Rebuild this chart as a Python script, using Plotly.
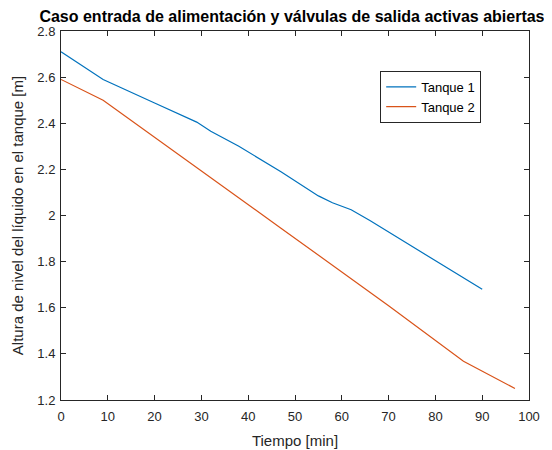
import plotly.graph_objects as go

t1 = [0, 9, 20, 29, 32, 38, 47, 55, 58, 61, 62, 66, 73, 90]
h1 = [2.71, 2.59, 2.488, 2.405, 2.365, 2.30, 2.19, 2.085, 2.055, 2.035, 2.025, 1.978, 1.89, 1.68]
t2 = [0, 9, 47, 70, 86, 97]
h2 = [2.59, 2.50, 1.945, 1.609, 1.368, 1.25]
x_ticks = [0, 10, 20, 30, 40, 50, 60, 70, 80, 90, 100]
y_ticks = [1.2, 1.4, 1.6, 1.8, 2.0, 2.2, 2.4, 2.6, 2.8]
y_labels = ["1.2", "1.4", "1.6", "1.8", "2", "2.2", "2.4", "2.6", "2.8"]

FONT = "Liberation Sans, Arial, Helvetica, sans-serif"
AX = "#262626"

fig = go.Figure()
fig.add_trace(go.Scatter(x=t1, y=h1, mode="lines", name="Tanque 1",
                         line=dict(color="#0072BD", width=1.2)))
fig.add_trace(go.Scatter(x=t2, y=h2, mode="lines", name="Tanque 2",
                         line=dict(color="#D95319", width=1.2)))

axis_common = dict(showgrid=False, zeroline=False, showline=True, linecolor=AX,
                   linewidth=1, mirror="ticks", ticks="inside", ticklen=5,
                   tickcolor=AX, automargin=False,
                   tickfont=dict(family=FONT, size=13, color=AX))

fig.update_xaxes(range=[0, 100], tickvals=x_ticks, ticklabelstandoff=4,
                 title=dict(text="Tiempo [min]", font=dict(family=FONT, size=15, color=AX), standoff=12),
                 **axis_common)
fig.update_yaxes(range=[1.2, 2.8], tickvals=y_ticks, ticktext=y_labels, ticklabelstandoff=2,
                 title=dict(text="Altura de nivel del líquido en el tanque [m]",
                            font=dict(family=FONT, size=15, color=AX), standoff=10),
                 **axis_common)

fig.update_layout(
    width=544, height=442,
    margin=dict(l=53, r=23, t=23, b=50),
    paper_bgcolor="white", plot_bgcolor="white",
    title=dict(text="<b>Caso entrada de alimentación y válvulas de salida activas abiertas</b>",
               x=0.522, xanchor="center", y=0.982, yanchor="middle",
               font=dict(family=FONT, size=16, color="black")),
    legend=dict(x=0.682, y=0.892, xanchor="left", yanchor="top",
                bordercolor=AX, borderwidth=1, bgcolor="white",
                font=dict(family=FONT, size=13, color="black"),
                itemwidth=30, tracegroupgap=0),
    showlegend=True,
)

fig.write_html("out.html")
